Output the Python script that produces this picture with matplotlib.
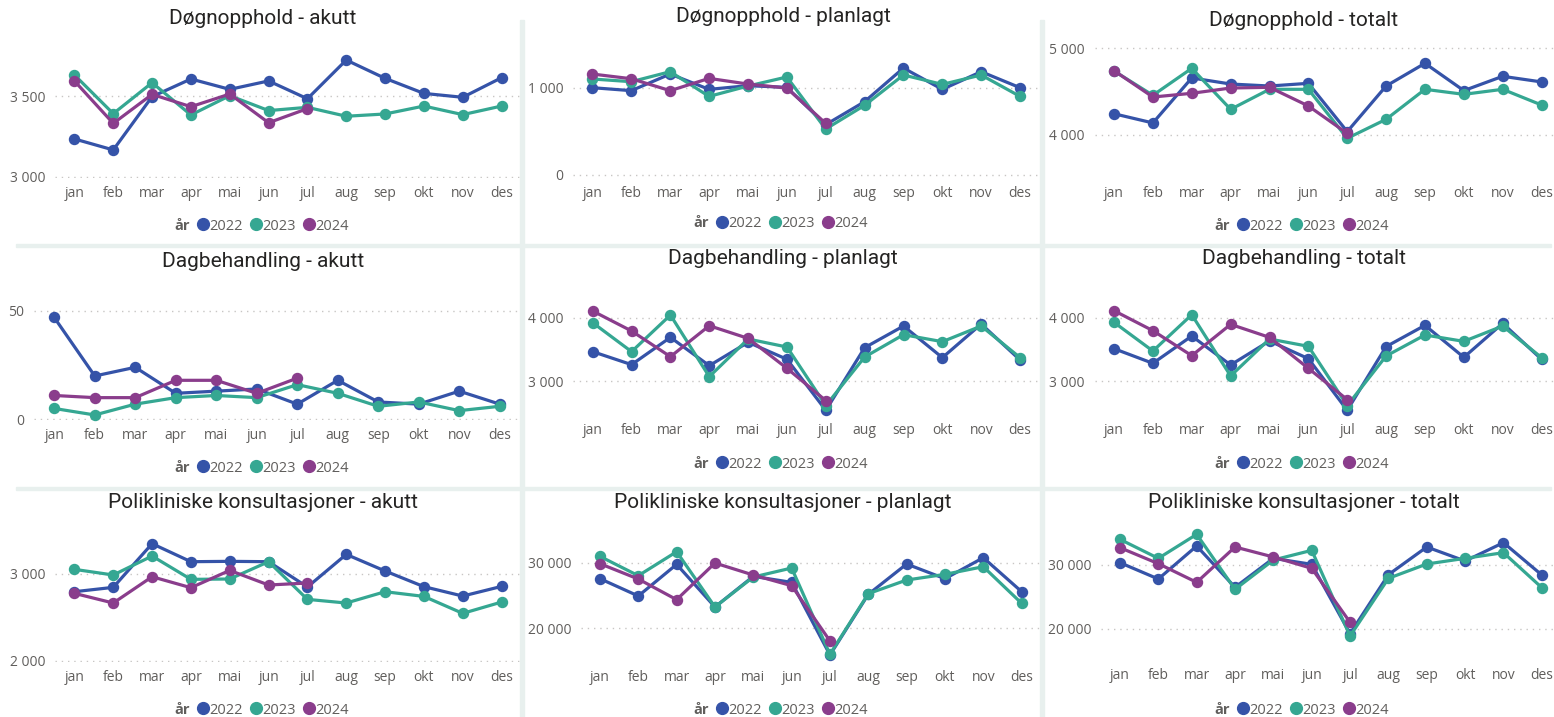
import matplotlib
matplotlib.use("Agg")
import matplotlib.pyplot as plt
from matplotlib.lines import Line2D
from matplotlib.patches import Rectangle
from matplotlib.ticker import FuncFormatter

# data
months = ["jan", "feb", "mar", "apr", "mai", "jun", "jul", "aug", "sep", "okt", "nov", "des"]
years = ["2022", "2023", "2024"]

dogn_akutt_2022 = [3235, 3167, 3496, 3605, 3541, 3593, 3483, 3722, 3609, 3516, 3492, 3613]
dogn_akutt_2023 = [3630, 3391, 3582, 3383, 3502, 3410, 3430, 3375, 3389, 3438, 3385, 3438]
dogn_akutt_2024 = [3593, 3331, 3510, 3434, 3512, 3335, 3422]

dogn_plan_2022 = [1000, 966, 1157, 981, 1023, 1004, 575, 839, 1226, 981, 1184, 1000]
dogn_plan_2023 = [1100, 1069, 1184, 900, 1019, 1123, 525, 797, 1146, 1038, 1146, 900]
dogn_plan_2024 = [1157, 1103, 966, 1107, 1042, 996, 590]

dogn_tot_2022 = [4245, 4139, 4658, 4588, 4565, 4596, 4039, 4565, 4827, 4512, 4677, 4612]
dogn_tot_2023 = [4738, 4458, 4769, 4296, 4527, 4527, 3962, 4181, 4527, 4469, 4527, 4346]
dogn_tot_2024 = [4742, 4438, 4481, 4542, 4550, 4335, 4019]

dag_akutt_2022 = [47, 20, 24, 12, 13, 14, 7, 18, 8, 7, 13, 7]
dag_akutt_2023 = [5, 2, 7, 10, 11, 10, 16, 12, 6, 8, 4, 6]
dag_akutt_2024 = [11, 10, 10, 18, 18, 12, 19]

dag_plan_2022 = [3466, 3262, 3691, 3246, 3613, 3346, 2544, 3529, 3869, 3372, 3900, 3335]
dag_plan_2023 = [3921, 3466, 4042, 3073, 3665, 3539, 2618, 3382, 3733, 3623, 3869, 3372]
dag_plan_2024 = [4105, 3791, 3387, 3874, 3675, 3204, 2696]

dag_tot_2022 = [3513, 3283, 3712, 3257, 3634, 3356, 2544, 3545, 3880, 3377, 3911, 3346]
dag_tot_2023 = [3927, 3476, 4047, 3084, 3665, 3550, 2618, 3398, 3728, 3628, 3869, 3372]
dag_tot_2024 = [4110, 3796, 3403, 3895, 3691, 3204, 2712]

poli_akutt_2022 = [2793, 2843, 3345, 3138, 3142, 3138, 2847, 3222, 3031, 2851, 2743, 2854]
poli_akutt_2023 = [3050, 2985, 3203, 2935, 2939, 3138, 2705, 2663, 2793, 2739, 2544, 2674]
poli_akutt_2024 = [2774, 2663, 2965, 2839, 3038, 2870, 2893]

poli_plan_2022 = [27563, 24924, 29746, 23249, 27919, 27005, 15939, 25178, 29797, 27563, 30761, 25584]
poli_plan_2023 = [30964, 28020, 31675, 23249, 27817, 29188, 16041, 25279, 27360, 28223, 29391, 23807]
poli_plan_2024 = [29848, 27513, 24366, 29949, 28122, 26497, 18071]

poli_tot_2022 = [30364, 27812, 32968, 26510, 31041, 30104, 19271, 28489, 32812, 30625, 33489, 28437]
poli_tot_2023 = [34010, 31041, 34791, 26198, 30781, 32291, 18906, 27916, 30156, 31041, 31927, 26458]
poli_tot_2024 = [32708, 30208, 27291, 32812, 31250, 29479, 21042]

colors = ["#3553A8", "#35A792", "#8A3D8C"]
text_grey = "#605E5C"
title_col = "#252423"
sep_col = "#E8F0EE"

W, H = 1554, 717
fig = plt.figure(figsize=(W / 100, H / 100), dpi=100)
fig.patch.set_facecolor("white")

fmt = FuncFormatter(lambda v, p: f"{v:,.0f}".replace(",", " "))


def panel(title, series, yticks, box, grid, title_xy, legend_xy):
    l, r, t, b = box
    xmax = 11.5
    if r > W:
        xmax = -0.5 + 12 * (W - l) / (r - l)
        r = W
    ax = fig.add_axes([l / W, 1 - b / H, (r - l) / W, (b - t) / H])
    (v1, y1), (v2, y2) = grid
    s = (v1 - v2) / (y2 - y1)
    ax.set_ylim(v2 - (b - y2) * s, v1 + (y1 - t) * s)
    ax.set_xlim(-0.5, xmax)

    for vals, c in zip(series, colors):
        ax.plot(range(len(vals)), vals, color=c, lw=2.3, marker="o", ms=7.2,
                solid_joinstyle="round", clip_on=False)

    ax.set_yticks(yticks)
    ax.yaxis.set_major_formatter(fmt)
    ax.set_xticks(range(12))
    ax.set_xticklabels(months)
    ax.tick_params(length=0, labelsize=10, labelcolor=text_grey, pad=5.5)
    ax.tick_params(axis="y", pad=7)
    for lab in ax.get_xticklabels() + ax.get_yticklabels():
        lab.set_family("Open Sans")
    ax.yaxis.grid(True, linestyle=(0, (1, 3.5)), color="#C8C6C4", lw=1)
    ax.set_axisbelow(True)
    for sp in ax.spines.values():
        sp.set_visible(False)
    ax.patch.set_alpha(0)

    fig.text(title_xy[0] / W, 1 - title_xy[1] / H, title, ha="center", va="center",
             fontsize=15, family="Roboto", color=title_col)

    handles = [Line2D([], [], linestyle="none")]
    handles += [Line2D([], [], linestyle="none", marker="o", ms=8.5, color=c) for c in colors]
    leg = fig.legend(handles, ["år"] + years, loc="center",
                     bbox_to_anchor=(legend_xy[0] / W, 1 - legend_xy[1] / H),
                     ncol=4, frameon=False, handlelength=0.6, handletextpad=0.15,
                     columnspacing=0.6, prop={"family": "Open Sans", "size": 10.5})
    for i, txt in enumerate(leg.get_texts()):
        txt.set_color(text_grey)
        if i == 0:
            txt.set_fontweight("bold")
    return ax


# row 1
panel("Døgnopphold - akutt", [dogn_akutt_2022, dogn_akutt_2023, dogn_akutt_2024],
      [3000, 3500], (55, 521, 40, 178), ((3500, 96), (3000, 177)), (263, 18), (256, 226))
panel("Døgnopphold - planlagt", [dogn_plan_2022, dogn_plan_2023, dogn_plan_2024],
      [0, 1000], (573, 1039.5, 40, 178), ((1000, 87.7), (0, 174.7)), (783, 16), (775, 224))
panel("Døgnopphold - totalt", [dogn_tot_2022, dogn_tot_2023, dogn_tot_2024],
      [4000, 5000], (1094.6, 1561, 40, 178), ((5000, 48.3), (4000, 135)), (1304, 20), (1296, 226))

# row 2
panel("Dagbehandling - akutt", [dag_akutt_2022, dag_akutt_2023, dag_akutt_2024],
      [0, 50], (34, 520, 280, 420), ((50, 311), (0, 419.3)), (263, 262), (256, 468))
panel("Dagbehandling - planlagt", [dag_plan_2022, dag_plan_2023, dag_plan_2024],
      [3000, 4000], (573.3, 1039.5, 280, 415), ((4000, 317.7), (3000, 381.3)), (783, 259), (775, 464))
panel("Dagbehandling - totalt", [dag_tot_2022, dag_tot_2023, dag_tot_2024],
      [3000, 4000], (1094.6, 1561, 280, 415), ((4000, 317.7), (3000, 381.3)), (1304, 259), (1296, 464))

# row 3
panel("Polikliniske konsultasjoner - akutt", [poli_akutt_2022, poli_akutt_2023, poli_akutt_2024],
      [2000, 3000], (55, 521, 522, 662), ((3000, 573.7), (2000, 660.7)), (263, 503), (256, 710))
panel("Polikliniske konsultasjoner - planlagt", [poli_plan_2022, poli_plan_2023, poli_plan_2024],
      [20000, 30000], (580.8, 1040.8, 522, 662), ((30000, 562.7), (20000, 628.3)), (783, 502), (775, 710))
panel("Polikliniske konsultasjoner - totalt", [poli_tot_2022, poli_tot_2023, poli_tot_2024],
      [20000, 30000], (1100.8, 1561, 522, 660), ((30000, 565), (20000, 629)), (1304, 502), (1296, 710))

# light separators between the tiles
for x in (520, 1040):
    fig.patches.append(Rectangle((x / W, 0), 4 / W, 1 - 20 / H, transform=fig.transFigure,
                                 color=sep_col, zorder=0))
for y in (244, 487):
    fig.patches.append(Rectangle((16 / W, 1 - (y + 3) / H), (1551 - 16) / W, 3 / H,
                                 transform=fig.transFigure, color=sep_col, zorder=0))

fig.savefig("out.png", dpi=100)
